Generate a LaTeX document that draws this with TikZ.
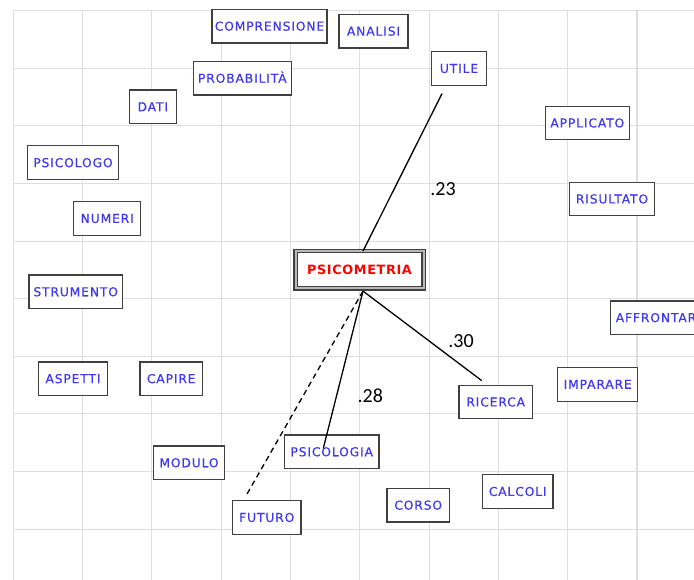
\documentclass[tikz,border=0pt]{standalone}
\usepackage{fontspec}
\usetikzlibrary{calc}
\newfontfamily\lblfont[LetterSpace=7,FakeBold=0.4]{DejaVu Sans}
\newfontfamily\corefont[LetterSpace=5]{DejaVu Sans Bold}
\newfontfamily\numfont{Carlito}
\definecolor{gridc}{RGB}{222,222,222}
\definecolor{boxc}{RGB}{64,64,64}
\definecolor{txtc}{RGB}{64,56,240}
\definecolor{redc}{RGB}{255,0,0}
\begin{document}
\begin{tikzpicture}[x=1bp,y=-1bp,
  word/.style={draw=boxc, line width=1.2bp, fill=white, inner sep=0pt,
    minimum height=33.6bp, text height=8.9bp, text depth=0pt,
    font=\lblfont\fontsize{12.3bp}{14bp}\selectfont, text=txtc},
  core/.style={draw=boxc, line width=1.2bp, double=gray!55, double distance=2bp,
    fill=white, inner sep=0pt, minimum width=128bp, minimum height=37.6bp,
    text height=9.3bp, text depth=0pt,
    font=\corefont\fontsize{12.8bp}{14bp}\selectfont, text=redc},
  link/.style={line width=1.3bp, black},
  weight/.style={font=\numfont\fontsize{20bp}{22bp}\selectfont, inner sep=0pt, text depth=0pt}]
\clip (0,0) rectangle (694,580);
\fill[white] (0,0) rectangle (694,580);
% grid
\foreach \k in {0,...,9} {
  \draw[gridc, line width=1.1bp] ({13.3+69.3*\k},10.7) -- ({13.3+69.3*\k},580);
  \draw[gridc, line width=1.1bp] (13.3,{10.7+57.6*\k}) -- (694,{10.7+57.6*\k});
}
% word nodes
\node[word, minimum width=115bp]  (compr) at (269.5,26.2) {COMPRENSIONE};
\node[word, minimum width=69bp]   (anal)  at (373.5,31.2) {ANALISI};
\node[word, minimum width=98bp]   (prob)  at (242.3,78.3) {PROBABILITÀ};
\node[word, minimum width=47bp]   (dati)  at (152.8,106.8) {DATI};
\node[word, minimum width=90.6bp] (psigo) at (73,162.7) {PSICOLOGO};
\node[word, minimum width=54.6bp] (utile) at (459,68.5) {UTILE};
\node[word, minimum width=84bp]   (appl)  at (587.3,123) {APPLICATO};
\node[word, minimum width=85bp]   (risu)  at (612,199) {RISULTATO};
\node[word, minimum width=67bp]   (num)   at (107.2,218.5) {NUMERI};
\node[word, minimum width=93.3bp] (strum) at (75.7,291.8) {STRUMENTO};
\node[word, minimum width=68.6bp] (asp)   at (73,378.7) {ASPETTI};
\node[word, minimum width=62.3bp] (cap)   at (171.2,378.7) {CAPIRE};
\node[word, minimum width=100bp]  (affr)  at (660.3,317.7) {AFFRONTARE};
\node[word, minimum width=80bp]   (impa)  at (597.7,384.3) {IMPARARE};
\node[word, minimum width=73.3bp] (ric)   at (495.7,402) {RICERCA};
\node[word, minimum width=94.7bp] (psgia) at (331.7,451.8) {PSICOLOGIA};
\node[word, minimum width=70.6bp] (mod)   at (189,462.8) {MODULO};
\node[word, minimum width=68.3bp] (fut)   at (266.8,517.5) {FUTURO};
\node[word, minimum width=62.3bp] (cors)  at (418.2,505.2) {CORSO};
\node[word, minimum width=70.7bp] (calc)  at (517.7,491.5) {CALCOLI};
\node[core] (psico) at (359.5,269.5) {PSICOMETRIA};
% connector ends
\coordinate (ptop) at ($(psico.north)+(3.5,1)$);
\coordinate (pbot) at ($(psico.south)+(3.5,2.2)$);
\coordinate (uend) at ($(utile.south)+(-17,7.7)$);
\coordinate (rend) at ($(ric.north)+(-14,-4)$);
\coordinate (gend) at ($(psgia.center)+(-8.4,-3.5)$);
\coordinate (fend) at ($(fut.north)+(-20,-5.7)$);
\draw[link] (ptop) -- (uend);
\draw[link] (pbot) -- (rend);
\draw[link] (pbot) -- (gend);
\draw[link, dash pattern=on 5.5bp off 4bp] (pbot) -- (fend);
% weights
\node[weight] (w23) at (443,189.5) {.23};
\node[weight] (w30) at (461,340.8) {.30};
\node[weight] (w28) at (370.3,395.3) {.28};
\end{tikzpicture}
\end{document}
